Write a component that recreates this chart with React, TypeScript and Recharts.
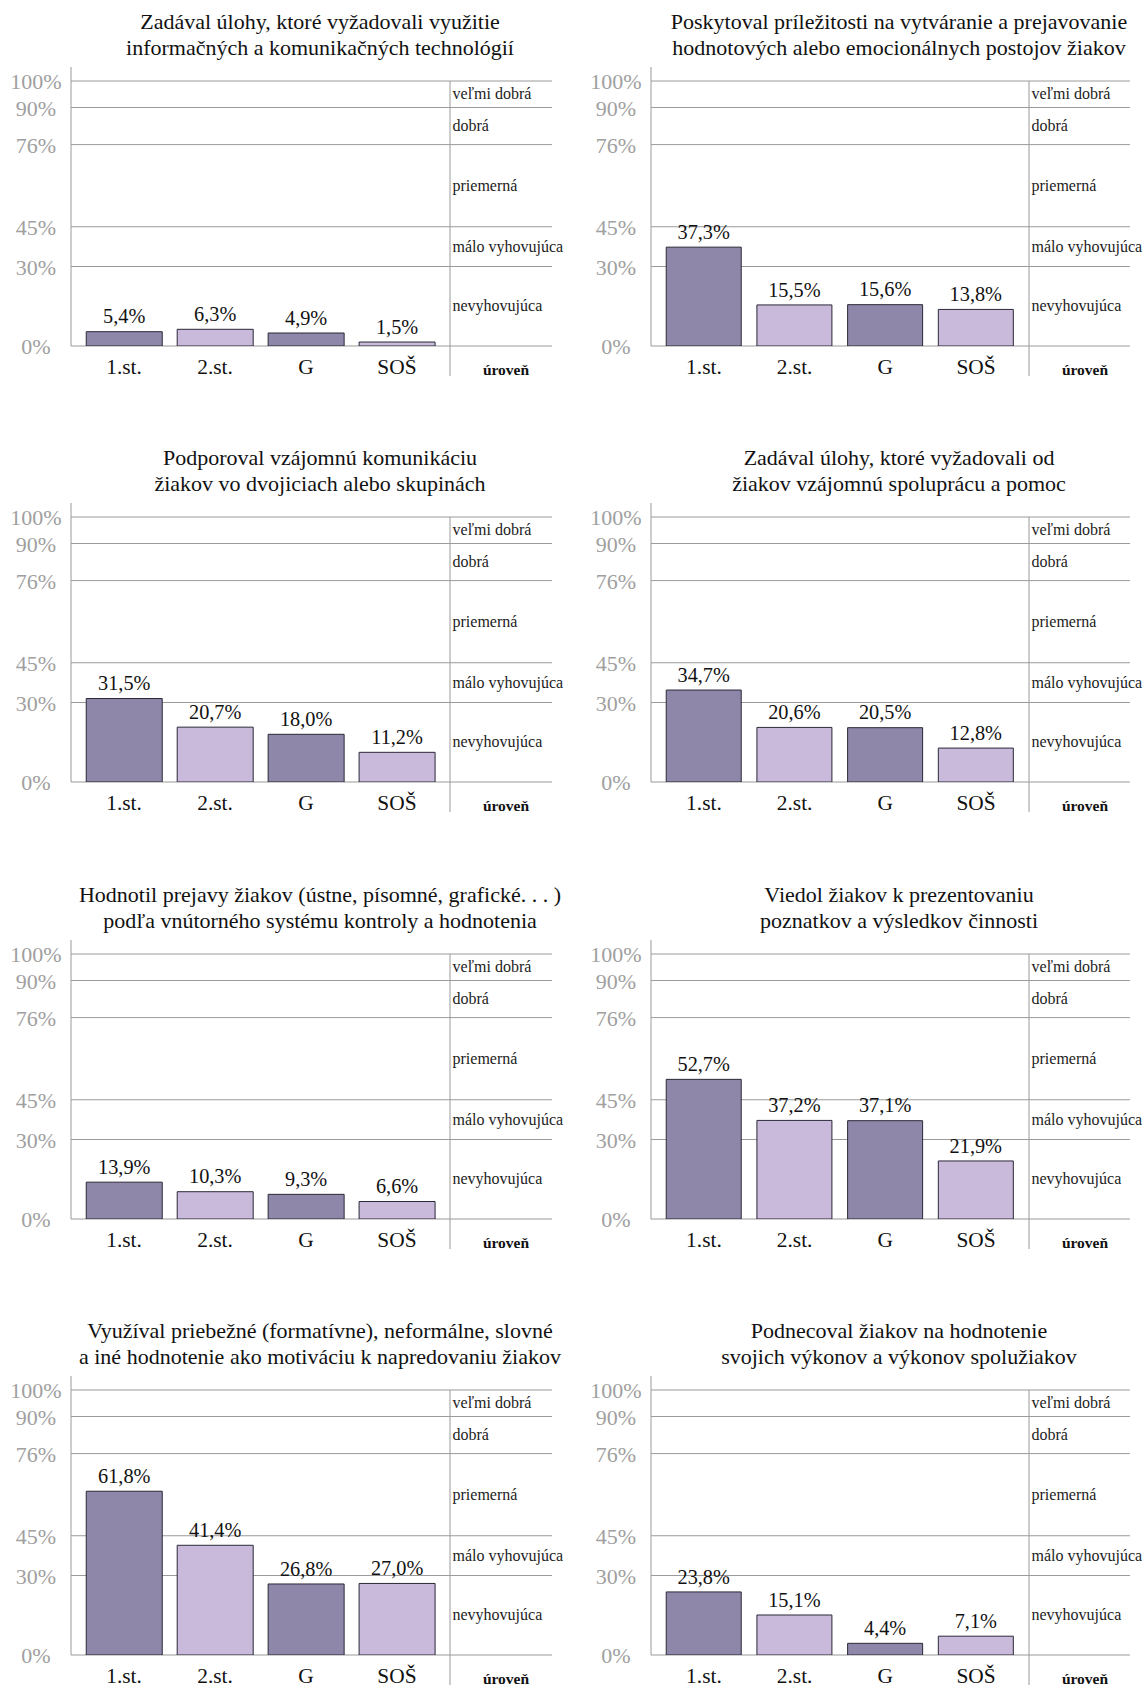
import React from "react";
import { BarChart, Bar, XAxis, YAxis, CartesianGrid, Cell, LabelList } from "recharts";

const categories = ["1.st.", "2.st.", "G", "SOŠ"];
const barColors = ["#8e87aa", "#c9b9da", "#8e87aa", "#c9b9da"];
const levelBounds = [0, 30, 45, 76, 90, 100];
const levelNames = ["nevyhovujúca", "málo vyhovujúca", "priemerná", "dobrá", "veľmi dobrá"];
const levelAxisName = "úroveň";

const titles = [
  ["Zadával úlohy, ktoré vyžadovali využitie", "informačných a komunikačných technológií"],
  ["Poskytoval príležitosti na vytváranie a prejavovanie", "hodnotových alebo emocionálnych postojov žiakov"],
  ["Podporoval vzájomnú komunikáciu", "žiakov vo dvojiciach alebo skupinách"],
  ["Zadával úlohy, ktoré vyžadovali od", "žiakov vzájomnú spoluprácu a pomoc"],
  ["Hodnotil prejavy žiakov (ústne, písomné, grafické. . . )", "podľa vnútorného systému kontroly a hodnotenia"],
  ["Viedol žiakov k prezentovaniu", "poznatkov a výsledkov činnosti"],
  ["Využíval priebežné (formatívne), neformálne, slovné", "a iné hodnotenie ako motiváciu k napredovaniu žiakov"],
  ["Podnecoval žiakov na hodnotenie", "svojich výkonov a výkonov spolužiakov"],
];

const ictTasks = [5.4, 6.3, 4.9, 1.5];
const attitudes = [37.3, 15.5, 15.6, 13.8];
const communication = [31.5, 20.7, 18.0, 11.2];
const cooperation = [34.7, 20.6, 20.5, 12.8];
const assessment = [13.9, 10.3, 9.3, 6.6];
const presenting = [52.7, 37.2, 37.1, 21.9];
const formative = [61.8, 41.4, 26.8, 27.0];
const selfAssessment = [23.8, 15.1, 4.4, 7.1];

const panelValues = [ictTasks, attitudes, communication, cooperation, assessment, presenting, formative, selfAssessment];

const levelMids = levelNames.map((_, i) => (levelBounds[i] + levelBounds[i + 1]) / 2);
const levelTicks = [...levelBounds, ...levelMids].sort((a, b) => a - b);

const GRID = "#9a9a9a";
const FONT = '"Liberation Serif", "DejaVu Serif", serif';

// layout of the two columns (px)
const columns = [
  { left: 0, plotW: 379, ext: 102, right: 25, titleX: 320 },
  { left: 580, plotW: 378, ext: 101, right: 14, titleX: 899 },
];
const AXIS_W = 71;
const ROW_STEP = 436.5;
const TOP = 81;
const PLOT_H = 265;
const CHART_H = 391;

const fmt = (v: number) => v.toFixed(1).replace(".", ",") + "%";

const PercentTick = (props: any) => {
  const { x, y, payload } = props;
  return (
    <g>
      {payload.value === 100 && <line x1={x} y1={y} x2={x} y2={y - 14} stroke={GRID} />}
      <text x={x - 35} y={y + 8} textAnchor="middle" fill="#a0a0a0" fontSize={22}>
        {payload.value}%
      </text>
    </g>
  );
};

const CategoryTick = (props: any) => {
  const { x, y, payload } = props;
  return (
    <text x={x} y={y + 28} textAnchor="middle" fill="#111" fontSize={21.4}>
      {payload.value}
    </text>
  );
};

const LevelTick = (props: any) => {
  const { x, y, payload, ext } = props;
  const v = payload.value;
  if (levelBounds.includes(v)) {
    return (
      <g>
        <line x1={x} y1={y} x2={x + ext} y2={y} stroke={GRID} />
        {v === 0 && (
          <g>
            <line x1={x} y1={y} x2={x} y2={y + 30} stroke={GRID} />
            <text x={x + 56} y={y + 29} textAnchor="middle" fontWeight="bold" fontSize={15.5} fill="#111">
              {levelAxisName}
            </text>
          </g>
        )}
      </g>
    );
  }
  return (
    <text x={x + 2.5} y={y + 5} fontSize={16} fill="#222">
      {levelNames[levelMids.indexOf(v)]}
    </text>
  );
};

function Panel({ index }: { index: number }) {
  const col = columns[index % 2];
  const row = Math.floor(index / 2);
  const top = Math.floor(row * ROW_STEP);
  const data = categories.map((name, i) => ({ name, value: panelValues[index][i] }));
  const width = AXIS_W + col.plotW + col.ext + col.right;
  return (
    <div style={{ position: "absolute", left: col.left, top, width, height: CHART_H }}>
      <BarChart
        width={width}
        height={CHART_H}
        data={data}
        margin={{ top: TOP, right: col.right, bottom: 5, left: 0 }}
        barCategoryGap="8.4%"
      >
        <CartesianGrid vertical={false} stroke={GRID} />
        <XAxis
          dataKey="name"
          axisLine={false}
          tickLine={false}
          tickSize={0}
          tickMargin={0}
          interval={0}
          height={CHART_H - TOP - 5 - PLOT_H}
          padding={{ left: 7.6, right: 7.6 }}
          tick={CategoryTick}
        />
        <YAxis
          width={AXIS_W}
          domain={[0, 100]}
          allowDataOverflow
          ticks={levelBounds}
          interval={0}
          axisLine={{ stroke: GRID }}
          tickLine={false}
          tickSize={0}
          tickMargin={0}
          tick={PercentTick}
        />
        <YAxis
          yAxisId="level"
          orientation="right"
          type="number"
          width={col.ext}
          domain={[0, 100]}
          allowDataOverflow
          ticks={levelTicks}
          interval={0}
          axisLine={{ stroke: GRID }}
          tickLine={false}
          tickSize={0}
          tickMargin={0}
          tick={(p: any) => <LevelTick {...p} ext={col.ext} />}
        />
        <Bar dataKey="value" stroke="#2b2937" strokeWidth={1} isAnimationActive={false}>
          {data.map((d, i) => (
            <Cell key={d.name} fill={barColors[i]} />
          ))}
          <LabelList dataKey="value" position="top" offset={8.4} formatter={fmt} fill="#111" fontSize={20.3} />
        </Bar>
      </BarChart>
      <div
        style={{
          position: "absolute",
          left: col.titleX - col.left - 320,
          top: TOP - 72.5,
          width: 640,
          textAlign: "center",
          fontSize: 22,
          lineHeight: "26.5px",
          color: "#111",
          whiteSpace: "nowrap",
        }}
      >
        {titles[index][0]}
        <br />
        {titles[index][1]}
      </div>
    </div>
  );
}

export default function App() {
  return (
    <div
      style={{
        position: "absolute",
        left: 0,
        top: 0,
        width: 1144,
        height: 1688,
        background: "#fff",
        fontFamily: FONT,
        overflow: "hidden",
      }}
    >
      {panelValues.map((_, i) => (
        <Panel key={i} index={i} />
      ))}
    </div>
  );
}
